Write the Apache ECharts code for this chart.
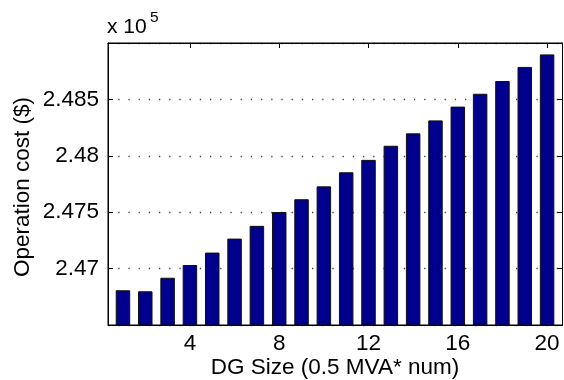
<!DOCTYPE html>
<html>
<head>
<meta charset="utf-8">
<script src="https://cdn.jsdelivr.net/npm/echarts@6/dist/echarts.min.js"></script>
<style>
html,body{margin:0;padding:0;background:#fff;}
#c{width:564px;height:380px;}
</style>
</head>
<body>
<div id="c"></div>
<script>
// DG size index (0.5 MVA * num)
var categories = [1,2,3,4,5,6,7,8,9,10,11,12,13,14,15,16,17,18,19,20];
// Operation cost in units of 10^5 $
var costValues = [2.46808,2.46799,2.46919,2.47032,2.47142,2.47266,2.47379,2.47501,2.47615,2.47729,
                  2.47854,2.47964,2.48089,2.48199,2.48314,2.48436,2.48550,2.48663,2.48788,2.48899];
var xTickValues = [4,8,12,16,20];
var xAxisTitle = 'DG Size (0.5 MVA* num)';
var yAxisTitle = 'Operation cost ($)';

var FONT = 'Liberation Sans, Arial, sans-serif';
var chart = echarts.init(document.getElementById('c'), null, {renderer:'canvas'});
var xMin = 0.33, xMax = 20.69;
var yMin = 2.465, yMax = 2.49;

function fmt(v){
  var s = (Math.round(v*1000)/1000).toFixed(3);
  return s.replace(/0+$/,'').replace(/\.$/,'');
}

var lineStyle = {color:'#000', width:1};
chart.setOption({
  animation:false,
  backgroundColor:'#fff',
  grid:{left:108, top:43, width:454.5, height:282, containLabel:false, outerBoundsMode:'none',
        show:true, borderColor:'#000', borderWidth:1, backgroundColor:'transparent'},
  xAxis:[{
    type:'value', min:xMin, max:xMax, position:'bottom',
    axisLine:{show:true, onZero:false, lineStyle:lineStyle},
    axisTick:{show:true, inside:true, length:5, customValues:xTickValues, lineStyle:lineStyle},
    axisLabel:{show:true, customValues:xTickValues, color:'#000', fontSize:22.5, fontFamily:FONT, margin:7},
    splitLine:{show:false}
  },{
    type:'value', min:xMin, max:xMax, position:'top',
    axisLine:{show:true, onZero:false, lineStyle:lineStyle},
    axisTick:{show:true, inside:true, length:5, customValues:xTickValues, lineStyle:lineStyle},
    axisLabel:{show:false},
    splitLine:{show:false}
  }],
  yAxis:[{
    type:'value', min:yMin, max:yMax, interval:0.005, position:'left',
    axisLine:{show:true, onZero:false, lineStyle:lineStyle},
    axisTick:{show:true, inside:true, length:5, lineStyle:lineStyle},
    axisLabel:{color:'#000', fontSize:22.5, fontFamily:FONT, margin:9, formatter:fmt,
               showMinLabel:false, showMaxLabel:false},
    splitLine:{show:true, lineStyle:{color:'#444', width:1.3, type:[1.3,8.9]}}
  },{
    type:'value', min:yMin, max:yMax, interval:0.005, position:'right',
    axisLine:{show:true, onZero:false, lineStyle:lineStyle},
    axisTick:{show:true, inside:true, length:5, lineStyle:lineStyle},
    axisLabel:{show:false},
    splitLine:{show:false}
  }],
  graphic:[{
    type:'text', left:107, top:17,
    style:{text:'x 10', fill:'#000', font:'21px ' + FONT}
  },{
    type:'text', left:150, top:10,
    style:{text:'5', fill:'#000', font:'15.5px ' + FONT}
  },{
    type:'text', x:335, y:368,
    style:{text:xAxisTitle, fill:'#000', font:'22.5px ' + FONT, align:'center', verticalAlign:'middle'}
  },{
    type:'text', x:23, y:187, rotation:Math.PI/2,
    style:{text:yAxisTitle, fill:'#000', font:'22.5px ' + FONT, align:'center', verticalAlign:'middle'}
  }],
  series:[{
    type:'bar',
    xAxisIndex:0, yAxisIndex:0,
    barWidth:14.5,
    data: categories.map(function(c,i){ return [c, costValues[i]]; }),
    itemStyle:{color:'#00008c', borderColor:'#111', borderWidth:1},
    z:3
  }]
});
</script>
</body>
</html>
